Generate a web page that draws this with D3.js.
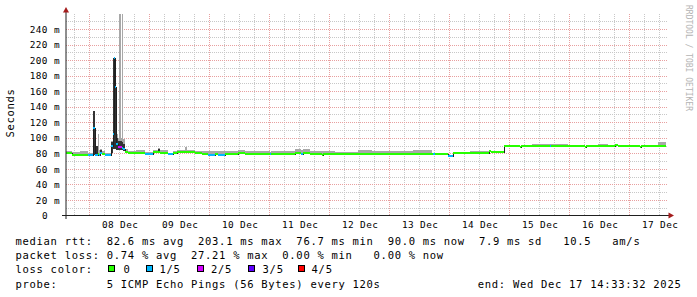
<!DOCTYPE html>
<html><head><meta charset="utf-8">
<script src="https://cdn.jsdelivr.net/npm/d3@7/dist/d3.min.js"></script>
<style>
html,body{margin:0;padding:0;background:#fff;}
svg{display:block;}
text{font-family:"DejaVu Sans Mono",monospace;fill:#000;}
</style></head><body>
<svg id="c" width="697" height="297"></svg>
<script>
// ---------------- data ----------------
const startTime = "2025-12-07T14:33:32Z";
const endTime   = "2025-12-17T14:33:32Z";
const dayLabels = ["08 Dec","09 Dec","10 Dec","11 Dec","12 Dec","13 Dec","14 Dec","15 Dec","16 Dec","17 Dec"];
const yTickValues = [0,20,40,60,80,100,120,140,160,180,200,220,240];
const yTickLabels = ["0","20 m","40 m","60 m","80 m","100 m","120 m","140 m","160 m","180 m","200 m","220 m","240 m"];
const yMax = 259.4;

// step series (hours since start)
const segHour = [0,2.4,5.6,8.8,10.8,11.6,12.8,13.2,13.6,14.4,15.6,18,18.8,19.2,19.6,20,20.8,21.2,21.8,22.2,22.8,23.6,24.8,28,31.6,34.8,36.8,37.6,40.8,42.8,44.4,47.6,48.4,51.6,54.4,56.8,59.6,60.8,63.6,68.8,71.6,75.6,78.4,81.6,82,87.6,91.6,94,94.8,97.6,102.4,102.8,107.6,116.8,122.4,126.8,132.4,138.8,146.4,146.8,147.6,152.8,154.8,161.6,165.6,169.2,170,175,181.6,182,186.4,193.6,194,196.8,200.8,207.6,208,212.8,216.8,219.6,220.8,229.6,230,236.8];
const medianMs = [80.5,77.5,77.5,78,112,78,79,78,80,78.5,77.5,89,105,203.1,166,92,88,88,88,87,85,82,80.5,81,79.5,81.5,81.5,81,78.5,81,82,82,81.5,81,79.5,78,79,78,79.5,80,79.5,79.5,79.5,79,79.5,79.5,80,79.5,80,79.5,77.5,79.5,79,79,79,79,79,79,78.5,78.5,78.5,76.7,80.5,80.5,80.5,83.5,81.5,89.5,88.5,89.5,89.5,89,89.5,90,89.5,88.5,89.5,89.5,89.5,90.5,89.5,88.5,89.5,90];
const lossOf5 = [0,0,0,1,1,1,0,1,1,0,1,1,1,1,1,1,2,2,2,1,1,0,0,0,1,0,0,0,1,0,0,0,0,0,0,1,0,1,0,0,0,0,0,1,0,0,0,1,0,0,0,0,0,0,0,0,0,0,0,1,0,1,0,0,0,0,0,0,0,0,0,1,0,0,0,0,0,0,0,0,0,0,0,0];
const smokeTopMs = [82.5,81.5,82.5,81,134,90,105,84,85,83,81,96,203,203.1,203,105,100,259.4,100,259.4,98,86,83.5,84,82,84,87,84,81,83.5,84.5,88,84,83.5,82.5,82.5,82.5,82.5,82.5,84,82.5,83.5,82.5,82,83,82.5,85,84.5,85,82.5,82.5,83,82,84,82.5,83,83.5,84,79,79,79,77,81,83,83.5,84,82,90,89,90,92.5,92,92,92,90,89,90,92.5,90,91,90,89,90,94];
const darkLoMs = [null,null,null,null,78,78,null,null,79,null,null,80,85,85,85,84,84,84,84,84,83,null,null,null,null,null,81,null,null,null,null,null,null,null,null,null,null,null,null,null,null,null,null,null,null,null,null,null,null,null,null,null,null,null,null,null,null,null,null,null,null,null,null,null,null,null,null,null,null,null,null,null,null,null,null,null,null,null,null,null,null,null,null,null];
const darkHiMs = [null,null,null,null,134,89,null,null,84,null,null,95,203,203,203,100,96,96,96,94,92,null,null,null,null,null,86,null,null,null,null,null,null,null,null,null,null,null,null,null,null,null,null,null,null,null,null,null,null,null,null,null,null,null,null,null,null,null,null,null,null,null,null,null,null,null,null,null,null,null,null,null,null,null,null,null,null,null,null,null,null,null,null,null];

const lossLabels = ["0","1/5","2/5","3/5","4/5"];
const lossColors = ["#26ff00","#00b8ff","#d400ff","#5e00ff","#ff0000"];

const legendRtt  = "median rtt:  82.6 ms avg  203.1 ms max  76.7 ms min  90.0 ms now  7.9 ms sd   10.5   am/s";
const legendLoss = "packet loss: 0.74 % avg  27.21 % max  0.00 % min   0.00 % now";
const legendLossTitle = "loss color:";
const legendProbe = "probe:       5 ICMP Echo Pings (56 Bytes) every 120s";
const legendEnd = "end: Wed Dec 17 14:33:32 2025";
const yTitle = "Seconds";
const watermark = "RRDTOOL / TOBI OETIKER";

// ---------------- drawing ----------------
const svg = d3.select("#c");
const t0 = new Date(startTime), t1 = new Date(endTime);
const x = d3.scaleUtc().domain([t0, t1]).range([66, 666]);
const y = d3.scaleLinear().domain([0, yMax]).range([215.4, 14]);
const px = v => Math.floor(v) + 0.5;
const py = v => Math.round(v) + 0.5;
const plotL = 66, plotR = 667, plotT = 14, plotB = 215;

// grid
const grid = svg.append("g").attr("shape-rendering","crispEdges").attr("stroke-width",1).attr("stroke-dasharray","1,1");
const majorDays = d3.utcDay.range(t0, t1);
const minorHours = d3.utcHour.every(6).range(t0, t1).filter(d => d.getUTCHours() !== 0);
grid.selectAll(".vmin").data(minorHours).join("line")
  .attr("x1", d => px(x(d))).attr("x2", d => px(x(d)))
  .attr("y1", plotT).attr("y2", plotB).attr("stroke", "#c8c8c8");
const hMinor = d3.range(10, yMax, 10).filter(v => v % 20 !== 0);
const hMajor = d3.range(20, yMax, 20);
grid.selectAll(".hmin").data(hMinor).join("line")
  .attr("x1", plotL).attr("x2", plotR + 1)
  .attr("y1", d => py(y(d))).attr("y2", d => py(y(d))).attr("stroke", "#c8c8c8");
grid.selectAll(".hmaj").data(hMajor).join("line")
  .attr("x1", plotL).attr("x2", plotR + 1)
  .attr("y1", d => py(y(d))).attr("y2", d => py(y(d))).attr("stroke", "#e8a0a0");
grid.selectAll(".vmaj").data(majorDays).join("line")
  .attr("x1", d => px(x(d))).attr("x2", d => px(x(d)))
  .attr("y1", plotT).attr("y2", plotB).attr("stroke", "#e8a0a0");

// segments
const T = segHour.map(h => new Date(+t0 + h * 3600e3));
const segs = segHour.map((h, i) => ({
  a: T[i], b: i < T.length - 1 ? T[i + 1] : t1,
  m: medianMs[i], loss: lossOf5[i], top: smokeTopMs[i], dlo: darkLoMs[i], dhi: darkHiMs[i]
}));

svg.append("clipPath").attr("id","clip").append("rect")
  .attr("x", plotL).attr("y", plotT).attr("width", plotR - plotL).attr("height", plotB - plotT);
const data = svg.append("g").attr("clip-path","url(#clip)").attr("shape-rendering","crispEdges");

// light smoke
data.selectAll(".smoke").data(segs).join("rect")
  .attr("x", d => Math.round(x(d.a)))
  .attr("width", d => Math.max(1, Math.round(x(d.b)) - Math.round(x(d.a))))
  .attr("y", d => Math.round(y(d.top)))
  .attr("height", d => Math.max(0, Math.round(y(d.m)) - Math.round(y(d.top))))
  .attr("fill", "#a8a8a8");
// dark smoke
data.selectAll(".dark").data(segs.filter(d => d.dhi != null)).join("rect")
  .attr("x", d => Math.round(x(d.a)))
  .attr("width", d => Math.max(1, Math.round(x(d.b)) - Math.round(x(d.a))))
  .attr("y", d => Math.round(y(d.dhi)))
  .attr("height", d => Math.max(1, Math.round(y(d.dlo)) - Math.round(y(d.dhi))))
  .attr("fill", "#333333");

// black median staircase
const pts = segs.map(d => ({t: d.a, v: d.m}));
pts.push({t: t1, v: medianMs[medianMs.length - 1]});
data.append("path").datum(pts)
  .attr("d", d3.line().x(d => Math.round(x(d.t))).y(d => Math.round(y(d.v)) + 0.5).curve(d3.curveStepAfter))
  .attr("fill", "none").attr("stroke", "#202020").attr("stroke-width", 1);

// loss-coloured median
data.selectAll(".med").data(segs).join("line")
  .attr("x1", d => Math.round(x(d.a))).attr("x2", d => Math.round(x(d.b)))
  .attr("y1", d => Math.round(y(d.m))).attr("y2", d => Math.round(y(d.m)))
  .attr("stroke", d => lossColors[d.loss]).attr("stroke-width", 2);

// axes lines
svg.append("line").attr("x1", 66).attr("x2", 66).attr("y1", 219).attr("y2", 11)
  .attr("stroke", "#1f1f1f").attr("stroke-width", 1);
svg.append("line").attr("x1", 62).attr("x2", 669).attr("y1", 215.5).attr("y2", 215.5)
  .attr("stroke", "#1f1f1f").attr("stroke-width", 1);
svg.append("path").attr("d", "M66,7 L69,12.5 L63,12.5 Z").attr("fill", "#a41c1c");
svg.append("path").attr("d", "M674,215.5 L668.5,212.5 L668.5,218.5 Z").attr("fill", "#a41c1c");

// y axis labels
const yAxis = d3.axisLeft(y).tickValues(yTickValues).tickFormat((d, i) => yTickLabels[i]).tickSize(0).tickPadding(6);
const ya = svg.append("g").attr("transform", "translate(66,0)").call(yAxis);
ya.select(".domain").remove();
ya.selectAll("text").attr("font-family", "DejaVu Sans Mono").attr("font-size", 9.4).attr("letter-spacing", 0.4)
  .attr("fill", "#000").attr("dy", "0.34em")
  .attr("dx", d => d === 0 ? -12 : 0);

// x axis labels (noon of each day)
const noons = majorDays.map(d => d3.utcHour.offset(d, 12));
const xAxis = d3.axisBottom(x).tickValues(noons).tickFormat((d, i) => dayLabels[i]).tickSize(0).tickPadding(0);
const xa = svg.append("g").attr("transform", "translate(0,215)").call(xAxis);
xa.select(".domain").remove();
xa.selectAll("text").attr("font-family", "DejaVu Sans Mono").attr("font-size", 9.4).attr("letter-spacing", 0.4)
  .attr("fill", "#000").attr("y", 9.5).attr("dy", "0.34em");

// y title
svg.append("text").attr("transform", "translate(10,113) rotate(-90)")
  .attr("text-anchor", "middle").attr("dominant-baseline", "central")
  .attr("font-size", 10.5).attr("letter-spacing", 0.7).text(yTitle);

// watermark
svg.append("text").attr("transform", "translate(688,5) rotate(90)")
  .attr("dominant-baseline", "central").attr("font-size", 8).style("fill","#b4b4b4")
  .text(watermark);

// legend
const leg = svg.append("g").attr("font-size", 10.5).attr("letter-spacing", 0.7);
function ltext(str, xx, yy) {
  leg.append("text").attr("x", xx).attr("y", yy).attr("dominant-baseline", "central")
    .attr("xml:space", "preserve").style("white-space", "pre").text(str);
}
ltext(legendRtt, 15.5, 241);
ltext(legendLoss, 15.5, 255);
ltext(legendLossTitle, 15.5, 269.3);
ltext(legendProbe, 15.5, 284.3);
ltext(legendEnd, 477.8, 284.3);
const boxX = [108, 146, 197, 248, 298];
const labX = [123.5, 159.5, 211, 262.6, 311.6];
lossLabels.forEach((lab, i) => {
  leg.append("rect").attr("x", boxX[i] + 0.5).attr("y", 265.5).attr("width", 6).attr("height", 6)
    .attr("fill", lossColors[i]).attr("stroke", "#000").attr("stroke-width", 1);
  ltext(lab, labX[i], 269.3);
});
</script>
</body></html>
